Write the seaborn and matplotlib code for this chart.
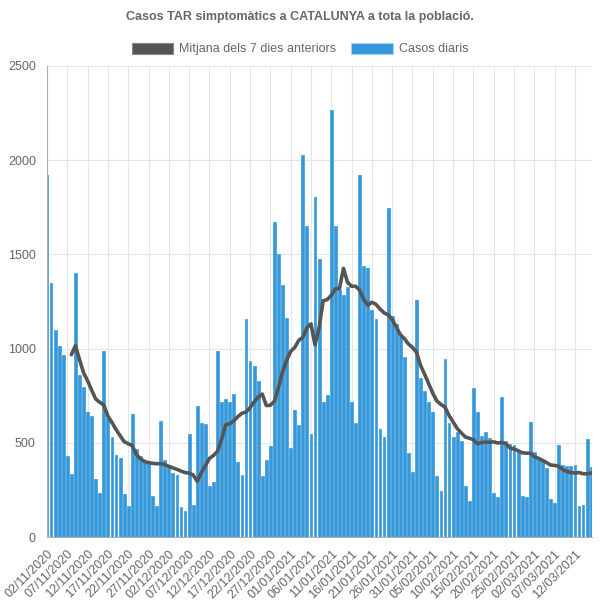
import numpy as np
import pandas as pd
import matplotlib
matplotlib.use("Agg")
import matplotlib.pyplot as plt
import seaborn as sns
from matplotlib.patches import Patch

# daily cases, 02/11/2020 .. 16/03/2021
casos = [1920, 1348, 1100, 1012, 968, 428, 336, 1401, 861, 794,
         662, 644, 308, 233, 985, 630, 531, 437, 419, 230,
         163, 655, 469, 432, 396, 393, 216, 163, 617, 410,
         375, 340, 331, 159, 140, 548, 172, 697, 605, 600,
         272, 290, 989, 718, 732, 715, 757, 400, 329, 1157,
         932, 909, 830, 326, 407, 485, 1672, 1504, 1336, 1164,
         472, 674, 596, 2026, 1652, 548, 1806, 1475, 716, 755,
         2268, 1652, 1313, 1286, 1328, 715, 607, 1921, 1438, 1428,
         1206, 1157, 573, 531, 1748, 1172, 1128, 1065, 953, 446,
         345, 1258, 844, 777, 718, 663, 324, 242, 946, 607,
         532, 558, 508, 273, 193, 789, 662, 538, 555, 525,
         234, 211, 743, 508, 495, 487, 449, 219, 212, 612,
         449, 419, 402, 364, 202, 179, 490, 382, 379, 379,
         382, 163, 172, 522, 372]

# 7-day mean line (starts on 08/11/2020)
mitjana = [968, 1016, 942, 872, 829, 779, 732, 715, 700, 641,
           608, 570, 538, 506, 495, 485, 438, 415, 401, 395,
           391, 389, 389, 384, 375, 367, 359, 350, 342, 339,
           329, 295, 341, 379, 417, 433, 455, 518, 596, 601,
           617, 639, 657, 663, 687, 717, 743, 759, 698, 699,
           721, 794, 876, 937, 985, 1006, 1044, 1060, 1110, 1131,
           1019, 1111, 1254, 1260, 1283, 1317, 1317, 1426, 1352, 1331,
           1331, 1310, 1260, 1230, 1246, 1235, 1210, 1190, 1179, 1154,
           1116, 1074, 1053, 1024, 1006, 980, 910, 863, 813, 763,
           722, 704, 689, 645, 611, 576, 553, 531, 524, 517,
           494, 502, 503, 503, 505, 499, 502, 495, 473, 467,
           458, 447, 445, 445, 426, 418, 407, 395, 382, 380,
           375, 358, 348, 343, 339, 342, 336, 335, 340]
mitjana_start = 6

dates = pd.date_range("2020-11-02", periods=len(casos), freq="D")
labels = [d.strftime("%d/%m/%Y") for d in dates]

df = pd.DataFrame({"pos": np.arange(len(casos)), "casos": casos})
line_df = pd.DataFrame({"pos": np.arange(mitjana_start, mitjana_start + len(mitjana)),
                        "mitjana": mitjana})

sns.set_style("white")
plt.rcParams["font.family"] = ["Liberation Sans", "DejaVu Sans"]

fig = plt.figure(figsize=(6, 6), dpi=100)
ax = fig.add_axes([47 / 600, 63 / 600, 545 / 600, 471 / 600])

blue = "#3498db"
dark = "#555555"

sns.barplot(data=df, x="pos", y="casos", color=blue, width=0.70,
            saturation=1, ax=ax, zorder=2, edgecolor="#4aa3e0", linewidth=0.6)
sns.lineplot(data=line_df, x="pos", y="mitjana", color=dark, linewidth=2.6,
             ax=ax, zorder=3)

ax.set_xlim(0, len(casos) - 1 + 0.2)
ax.set_ylim(0, 2500)
ax.set_yticks(range(0, 2501, 500))
ax.set_xticks(range(0, len(casos), 5))
ax.set_xticklabels(labels[::5], rotation=45, ha="right", rotation_mode="anchor")
ax.set_xlabel("")
ax.set_ylabel("")

ax.grid(True, color="#e5e5e5", linewidth=0.8, zorder=0)
ax.set_axisbelow(True)
for s in ["top", "right"]:
    ax.spines[s].set_visible(False)
for s in ["left", "bottom"]:
    ax.spines[s].set_color("#b0b0b0")
    ax.spines[s].set_linewidth(0.8)
ax.tick_params(axis="both", colors="#e0e0e0", labelcolor="#666666",
               labelsize=9, length=5, width=0.8, pad=3)

fig.text(0.5, 1 - 17 / 600, "Casos TAR simptomàtics a CATALUNYA a tota la població.",
         ha="center", va="center", fontsize=9, fontweight="bold", color="#666666")

handles = [Patch(facecolor=dark, edgecolor="#888888", linewidth=0.8),
           Patch(facecolor=blue, edgecolor="#a9d3f2", linewidth=0.8)]
fig.legend(handles, ["Mitjana dels 7 dies anteriors", "Casos diaris"],
           loc="center", bbox_to_anchor=(0.5, 1 - 49 / 600), ncol=2, frameon=False,
           handlelength=3.3, handleheight=1.0, fontsize=9, labelcolor="#666666",
           columnspacing=1.2, handletextpad=0.5)

fig.savefig("out.png", dpi=100)
